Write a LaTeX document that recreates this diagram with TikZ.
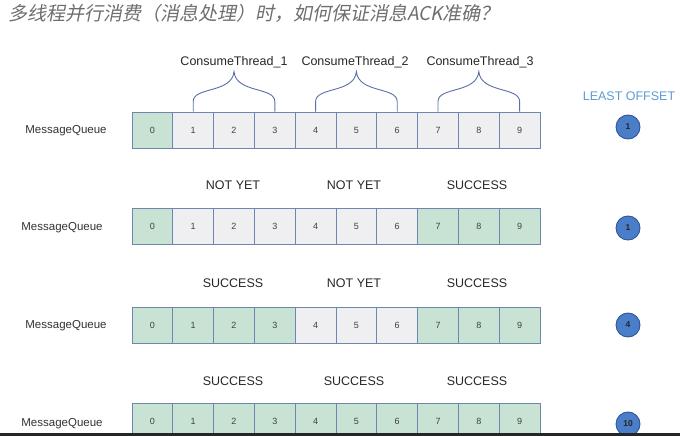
\documentclass[tikz,border=0pt]{standalone}
\usepackage{fontspec}
\usetikzlibrary{calc}
\setmainfont{Liberation Sans}
\newfontfamily\cjktitle[FakeSlant=0.2]{Noto Sans CJK SC}
\definecolor{cellgreen}{HTML}{C8E3D4}
\definecolor{cellgray}{HTML}{EFEFF1}
\definecolor{cellborder}{HTML}{6F86B0}
\definecolor{bracecol}{HTML}{5C6EA6}
\definecolor{leastblue}{HTML}{5B9BD5}
\definecolor{circfill}{HTML}{4A7EC9}
\definecolor{circborder}{HTML}{2F5597}
\definecolor{titlegray}{HTML}{6E6E6E}
\begin{document}
\begin{tikzpicture}[x=1pt,y=-1pt,
  cellbox/.style={draw=cellborder,line width=0.9pt,minimum width=40.8pt,minimum height=36pt,inner sep=0pt,font=\fontsize{9}{10}\selectfont,text=black!75},
  okcell/.style={cellbox,fill=cellgreen},
  pendcell/.style={cellbox,fill=cellgray},
  mqlabel/.style={font=\fontsize{11.5}{13}\selectfont,text=black!80},
  statuslabel/.style={font=\fontsize{12.5}{14}\selectfont,text=black!85},
  threadlabel/.style={font=\fontsize{12.5}{14}\selectfont,text=black!85},
  offcirc/.style={circle,draw=circborder,line width=0.9pt,fill=circfill,minimum size=24pt,inner sep=0pt,font=\bfseries\fontsize{8.5}{9}\selectfont,text=black!85},
  bracestyle/.style={draw=bracecol,line width=0.9pt}
]
\useasboundingbox (0,0) rectangle (680,436);
\begin{scope}
\clip (0,0) rectangle (680,433);
% title
\node[anchor=west,inner sep=0pt,text=titlegray] (title) at (8,13)
  {\cjktitle\fontsize{19}{21}\selectfont 多线程并行消费（消息处理）时，如何保证消息ACK准确？};

% LEAST OFFSET
\node[font=\fontsize{12.5}{14}\selectfont,text=leastblue] (least) at (629,96) {LEAST OFFSET};

% row 1
\node[mqlabel] (mq1) at (66,131) {MessageQueue};
\foreach \i in {0,...,9}{
  \ifnum\i=0 \def\st{okcell}\else\def\st{pendcell}\fi
  \node[\st] (ra\i) at ({152.4+40.8*\i},130) {\i};
}
\node[offcirc] (c1) at (628,127) {1};

% braces
\foreach \a/\b/\n in {1/3/1,4/6/2,7/9/3}{
  \path (ra\a.north) coordinate (bl\n) (ra\b.north) coordinate (br\n);
  \path ($(bl\n)!0.5!(br\n)$) ++(0,-40) coordinate (bp\n);
}
\foreach \n in {1,2,3}{
  \draw[bracestyle] (bl\n) -- ++(0,-10) .. controls +(0,-15) and +(-2,22) .. (bp\n)
     .. controls +(2,22) and +(0,-15) .. ([yshift=10pt]br\n) -- (br\n);
}
\node[threadlabel] (t1) at (234,62) {ConsumeThread\_1};
\node[threadlabel] (t2) at (355,62) {ConsumeThread\_2};
\node[threadlabel] (t3) at (480,62) {ConsumeThread\_3};

% row 2
\node[statuslabel] (s21) at (233,185) {NOT YET};
\node[statuslabel] (s22) at (354,185) {NOT YET};
\node[statuslabel] (s23) at (477,185) {SUCCESS};
\node[mqlabel] (mq2) at (62,228) {MessageQueue};
\foreach \i in {0,...,9}{
  \ifnum\i=0 \def\st{okcell}\else\ifnum\i>6 \def\st{okcell}\else\def\st{pendcell}\fi\fi
  \node[\st] (rb\i) at ({152.4+40.8*\i},226.5) {\i};
}
\node[offcirc] (c2) at (628,228) {1};

% row 3
\node[statuslabel] (s31) at (233,283) {SUCCESS};
\node[statuslabel] (s32) at (354,283) {NOT YET};
\node[statuslabel] (s33) at (477,283) {SUCCESS};
\node[mqlabel] (mq3) at (66,326) {MessageQueue};
\foreach \i in {0,...,9}{
  \ifnum\i<4 \def\st{okcell}\else\ifnum\i>6 \def\st{okcell}\else\def\st{pendcell}\fi\fi
  \node[\st] (rc\i) at ({152.4+40.8*\i},325) {\i};
}
\node[offcirc] (c3) at (628,325) {4};

% row 4
\node[statuslabel] (s41) at (233,381) {SUCCESS};
\node[statuslabel] (s42) at (354,381) {SUCCESS};
\node[statuslabel] (s43) at (477,381) {SUCCESS};
\node[mqlabel] (mq4) at (62,424) {MessageQueue};
\foreach \i in {0,...,9}{
  \node[okcell] (rd\i) at ({152.4+40.8*\i},421) {\i};
}
\node[offcirc] (c4) at (628,424) {10};
\end{scope}
\fill[black!85] (0,433) rectangle (680,436);
\end{tikzpicture}
\end{document}
